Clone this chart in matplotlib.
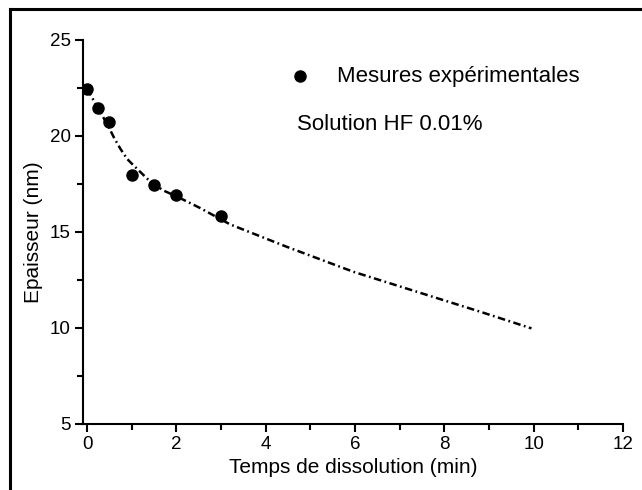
import matplotlib
matplotlib.use("Agg")
import matplotlib.pyplot as plt
from matplotlib.lines import Line2D
from matplotlib.ticker import MultipleLocator

# measured points
temps = [0, 0.25, 0.5, 1, 1.5, 2, 3]
epaisseur = [22.45, 21.45, 20.75, 17.95, 17.45, 16.95, 15.85]

# fitted curve
fit_t = [0, 0.25, 0.5, 0.6, 0.75, 0.9, 1.05, 1.24, 1.43, 1.72, 2.01, 2.53, 3.2, 4.47, 5.96, 7.38, 8.8, 9.95]
fit_e = [22.45, 21.45, 20.4, 19.93, 19.32, 18.8, 18.45, 18.02, 17.59, 17.15, 16.85, 16.25, 15.4, 14.23, 12.93, 11.89, 10.85, 9.98]

plt.rcParams['font.family'] = ['Liberation Sans', 'DejaVu Sans']

fig = plt.figure(figsize=(6.42, 4.9), dpi=100)
ax = fig.add_axes([0.1293, 0.1347, 0.8411, 0.7837])

ax.plot(fit_t, fit_e, color='black', lw=1.8, linestyle=(0, (3, 1.4, 0.7, 1.4)))
ax.plot(temps, epaisseur, 'o', color='black', markersize=8)

ax.set_xlim(-0.09, 12)
ax.set_ylim(5, 25)
ax.xaxis.set_major_locator(MultipleLocator(2))
ax.xaxis.set_minor_locator(MultipleLocator(1))
ax.yaxis.set_major_locator(MultipleLocator(5))
ax.yaxis.set_minor_locator(MultipleLocator(2.5))

for side in ['top', 'right']:
    ax.spines[side].set_visible(False)
for side in ['left', 'bottom']:
    ax.spines[side].set_linewidth(1.5)

ax.tick_params(which='major', direction='out', length=6, width=1.5, labelsize=13.5, pad=3)
ax.tick_params(which='minor', direction='out', length=4, width=1.5)

ax.set_xlabel('Temps de dissolution (min)', fontsize=15, labelpad=3)
ax.set_ylabel('Epaisseur (nm)', fontsize=15, labelpad=5)

# legend-like annotations
ax.plot([4.76], [23.1], 'o', color='black', markersize=8)
ax.text(5.6, 23.1, 'Mesures expérimentales', fontsize=16, va='center', ha='left')
ax.text(4.7, 20.6, 'Solution HF 0.01%', fontsize=16, va='center', ha='left')

# outer frame (top and left only visible)
fig.add_artist(Line2D([0.0148, 0.0148], [0, 0.9816], color='black', lw=2.2, transform=fig.transFigure))
fig.add_artist(Line2D([0.0148, 1], [0.9816, 0.9816], color='black', lw=2.2, transform=fig.transFigure))

fig.savefig('out.png', dpi=100)
